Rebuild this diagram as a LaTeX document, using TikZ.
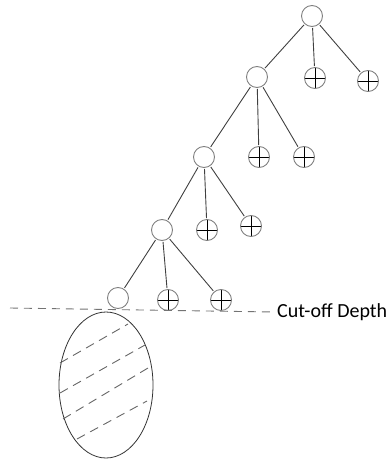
\documentclass[tikz,border=0pt]{standalone}
\usepackage{fontspec}
\setmainfont{Carlito}
\usetikzlibrary{shapes.geometric}
\begin{document}
\begin{tikzpicture}[x=1pt,y=-1pt,
  open/.style={circle,draw=black!50,line width=0.9pt,minimum size=21pt,inner sep=0pt,outer sep=1.5pt},
  plusn/.style={open,path picture={\draw[black,line width=0.9pt]
     (path picture bounding box.north) -- (path picture bounding box.south)
     (path picture bounding box.west) -- (path picture bounding box.east);}},
  edge/.style={draw=black!75,line width=0.9pt},
  cut/.style={draw=black!55,line width=0.9pt,dash pattern=on 8pt off 6pt},
  hatch/.style={draw=black!60,line width=0.9pt,dash pattern=on 9pt off 6pt}]
\useasboundingbox (0,0) rectangle (388,460);
% level 0
\node[open] (r0) at (312,16) {};
% level 1
\node[open] (a1) at (257,77) {};
\node[plusn] (p1a) at (315,78) {};
\node[plusn] (p1b) at (368,81) {};
% level 2
\node[open] (a2) at (204,157) {};
\node[plusn] (p2a) at (259,157) {};
\node[plusn] (p2b) at (304,157) {};
% level 3
\node[open] (a3) at (162,230) {};
\node[plusn] (p3a) at (207,230) {};
\node[plusn] (p3b) at (251,226) {};
% level 4
\node[open] (a4) at (118,298) {};
\node[plusn] (p4a) at (168,300) {};
\node[plusn] (p4b) at (221,300) {};
% edges
\draw[edge] (r0) -- (a1);
\draw[edge] (r0) -- (p1a);
\draw[edge] (r0) -- (p1b);
\draw[edge] (a1) -- (a2);
\draw[edge] (a1) -- (p2a);
\draw[edge] (a1) -- (p2b);
\draw[edge] (a2) -- (a3);
\draw[edge] (a2) -- (p3a);
\draw[edge] (a2) -- (p3b);
\draw[edge] (a3) -- (a4);
\draw[edge] (a3) -- (p4a);
\draw[edge] (a3) -- (p4b);
% cut-off line
\node[anchor=west,inner sep=3pt,font=\fontsize{20}{24}\selectfont] (txt) at (274,312) {Cut-off Depth};
\coordinate (cl) at (10,308);
\draw[cut] (cl) -- (txt.west);
% ellipse
\node[ellipse,draw=black!80,line width=0.8pt,minimum width=94pt,minimum height=146pt,inner sep=0pt] (ell) at (106,385) {};
% hatching
\draw[hatch] (60,363) -- (128,324);
\draw[hatch] (60,393) -- (145,345);
\draw[hatch] (63,419) -- (148,368);
\draw[hatch] (77,439) -- (147,401);
\end{tikzpicture}
\end{document}
